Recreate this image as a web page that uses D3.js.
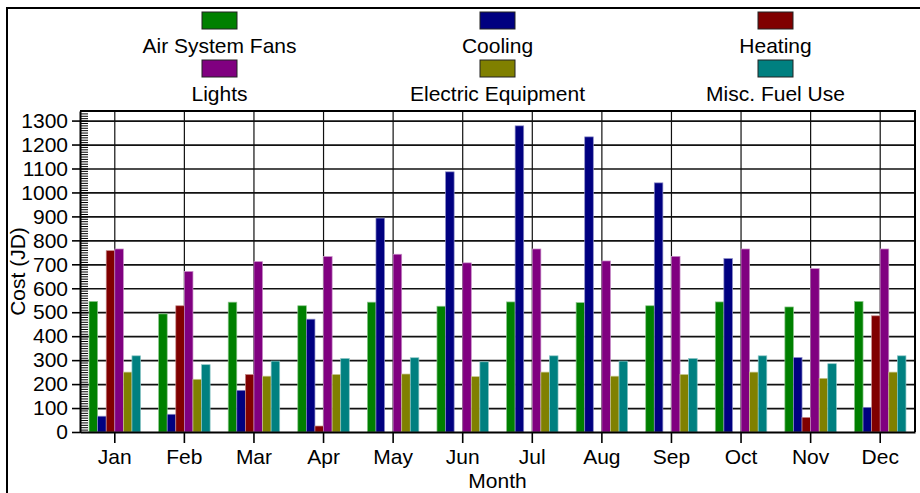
<meta charset="utf-8">
<html>
  <head>
    <style>
      body { margin: 0; background: #fff; }
      text { font-family: "Liberation Sans", Arial, Helvetica, sans-serif; }
      .axis text { font-size: 21px; fill: #000; }
      .axis line { stroke: #000; }
      .axis path { stroke: #000; }
      .grid line { stroke: #111; }
      .grid path { display: none; }
      .legend { font-size: 21px; fill: #000; }
      .axisLabel { font-size: 21px; fill: #000; }
    </style>
  </head>
<script src="https://d3js.org/d3.v7.min.js"></script>

<div id="my_dataviz"></div>
<script>

    // data (Cost in JD)
    var months = ["Jan", "Feb", "Mar", "Apr", "May", "Jun", "Jul", "Aug", "Sep", "Oct", "Nov", "Dec"];
    var seriesNames = ["Air System Fans", "Cooling", "Heating", "Lights", "Electric Equipment", "Misc. Fuel Use"];
    var seriesColors = ["#008000", "#000080", "#800000", "#800080", "#808000", "#008080"];

    var airSystemFans     = [545, 493, 542, 527, 542, 525, 543, 540, 527, 543, 522, 545];
    var cooling           = [66, 74, 174, 471, 893, 1086, 1278, 1232, 1040, 724, 311, 103];
    var heating           = [757, 527, 240, 25, 0, 0, 0, 0, 0, 0, 61, 485];
    var lights            = [764, 670, 711, 732, 742, 706, 764, 714, 733, 764, 682, 764];
    var electricEquipment = [250, 220, 233, 240, 242, 231, 250, 233, 240, 250, 224, 250];
    var miscFuelUse       = [318, 281, 296, 307, 310, 293, 318, 296, 307, 318, 285, 318];

    var yTicks = [0, 100, 200, 300, 400, 500, 600, 700, 800, 900, 1000, 1100, 1200, 1300];

    var values = [airSystemFans, cooling, heating, lights, electricEquipment, miscFuelUse];

    // table for the grouped bars
    var data = months.map(function(m, i) {
      return {
        month: m,
        vals: seriesNames.map(function(s, j) { return {key: s, value: values[j][i]}; })
      };
    });

    var W = 920, H = 493;
    var margin = {top: 111, right: 5, bottom: 61, left: 80},
        width = W - margin.left - margin.right,
        height = H - margin.top - margin.bottom;

    var root = d3.select("#my_dataviz")
      .append("svg")
        .attr("width", W)
        .attr("height", H);

    // outer frame
    root.append("path")
      .attr("d", "M7," + H + "V8H" + (W + 2))
      .attr("fill", "none")
      .attr("stroke", "#000")
      .attr("stroke-width", 2);

    var svg = root.append("g")
        .attr("transform", "translate(" + margin.left + "," + margin.top + ")");

    var x0 = d3.scaleBand()
      .domain(months)
      .range([0, width])
      .paddingInner(0.26)
      .paddingOuter(0.13);

    var x1 = d3.scaleBand()
      .domain(seriesNames)
      .range([0, x0.bandwidth()]);

    var y = d3.scaleLinear()
      .domain([0, 1340])
      .range([height, 0]);

    var color = d3.scaleOrdinal()
      .domain(seriesNames)
      .range(seriesColors);

    // horizontal grid
    svg.append("g")
      .attr("class", "grid")
      .call(d3.axisLeft(y).tickValues(yTicks.slice(1)).tickSize(-width).tickFormat(""))
      .selectAll("line").attr("stroke-width", 1.7);

    // vertical grid at month centres
    svg.append("g")
      .attr("class", "grid")
      .attr("transform", "translate(0," + height + ")")
      .call(d3.axisBottom(x0).tickSize(height).tickFormat(""))
      .attr("transform", "translate(0,0)")
      .selectAll("line").attr("stroke-width", 1.2);

    // bars
    svg.append("g")
      .selectAll("g")
      .data(data)
      .enter()
      .append("g")
        .attr("transform", function(d) { return "translate(" + x0(d.month) + ",0)"; })
      .selectAll("rect")
      .data(function(d) { return d.vals; })
      .enter()
      .append("rect")
        .attr("x", function(d) { return x1(d.key); })
        .attr("y", function(d) { return y(d.value); })
        .attr("width", x1.bandwidth())
        .attr("height", function(d) { return height - y(d.value); })
        .attr("fill", function(d) { return color(d.key); })
        .attr("stroke", function(d) { return d3.interpolateRgb(color(d.key), "#fff")(0.55); })
        .attr("stroke-width", 0.7);

    // plot frame (top + right)
    svg.append("path")
      .attr("d", "M0,0H" + width + "V" + height)
      .attr("fill", "none")
      .attr("stroke", "#000")
      .attr("stroke-width", 2);

    // minor ticks inside left axis
    svg.append("g")
      .attr("class", "axis")
      .call(d3.axisRight(y).ticks(134).tickSize(8).tickFormat(""))
      .call(function(g) { g.select(".domain").remove(); })
      .selectAll("line").attr("stroke-width", 1);

    // y axis
    var yAxis = svg.append("g")
      .attr("class", "axis")
      .call(d3.axisLeft(y).tickValues(yTicks).tickFormat(d3.format("d"))
        .tickSize(8).tickPadding(4).tickSizeOuter(0));
    yAxis.select(".domain").attr("stroke-width", 2);
    yAxis.selectAll("line").attr("stroke-width", 1.6);

    // x axis
    var xAxis = svg.append("g")
      .attr("class", "axis")
      .attr("transform", "translate(0," + height + ")")
      .call(d3.axisBottom(x0).tickSize(11).tickPadding(6).tickSizeOuter(0));
    xAxis.select(".domain").attr("stroke-width", 2.2);
    xAxis.selectAll("line").attr("stroke-width", 1.6);

    // axis titles
    root.append("text")
      .attr("class", "axisLabel")
      .attr("transform", "translate(25," + (margin.top + height / 2) + ") rotate(-90)")
      .style("text-anchor", "middle")
      .text("Cost (JD)");

    root.append("text")
      .attr("class", "axisLabel")
      .attr("x", margin.left + width / 2)
      .attr("y", 488)
      .style("text-anchor", "middle")
      .text("Month");

    // legend, 3 columns x 2 rows
    var legend = root.append("g")
      .selectAll("g")
      .data(seriesNames)
      .enter()
      .append("g")
        .attr("transform", function(d, i) {
          return "translate(" + (219.5 + (i % 3) * 278) + "," + (Math.floor(i / 3) * 48) + ")";
        });

    legend.append("rect")
      .attr("x", -17.5)
      .attr("y", 12)
      .attr("width", 35)
      .attr("height", 17)
      .attr("fill", function(d) { return color(d); })
      .attr("stroke", "#222")
      .attr("stroke-width", 1);

    legend.append("text")
      .attr("class", "legend")
      .attr("x", 0)
      .attr("y", 53)
      .style("text-anchor", "middle")
      .text(function(d) { return d; });

</script>
</html>
